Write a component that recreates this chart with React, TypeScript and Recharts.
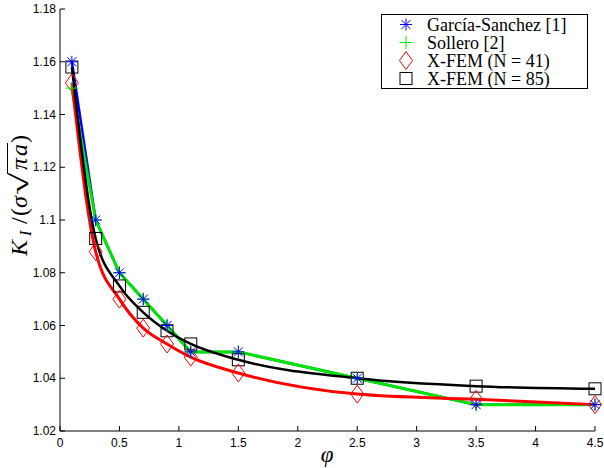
import React from "react";
import { LineChart, Line, XAxis, YAxis, Legend } from "recharts";

const phi = [0.1, 0.3, 0.5, 0.7, 0.9, 1.1, 1.5, 2.5, 3.5, 4.5];
const garcia = [1.16, 1.1, 1.08, 1.07, 1.06, 1.05, 1.05, 1.04, 1.03, 1.03];
const sollero = [1.15, 1.1, 1.08, 1.07, 1.06, 1.05, 1.05, 1.04, 1.03, 1.03];
const xfem41 = [1.152, 1.088, 1.07, 1.059, 1.053, 1.048, 1.042, 1.034, 1.032, 1.03];
const xfem85 = [1.158, 1.093, 1.075, 1.065, 1.058, 1.053, 1.047, 1.04, 1.037, 1.036];

const xTicks = [0, 0.5, 1, 1.5, 2, 2.5, 3, 3.5, 4, 4.5];
const yTicks = [1.02, 1.04, 1.06, 1.08, 1.1, 1.12, 1.14, 1.16, 1.18];

const seriesNames = ["García-Sanchez [1]", "Sollero [2]", "X-FEM (N = 41)", "X-FEM (N = 85)"];

const data = phi.map((p, i) => ({
  phi: p,
  garcia: garcia[i],
  sollero: sollero[i],
  xfem41: xfem41[i],
  xfem85: xfem85[i],
}));

const BLUE = "#0000ff";
const GREEN = "#00e600";
const RED = "#ff0000";
const BLACK = "#000000";
const SERIF = "'Liberation Serif', 'Times New Roman', serif";
const SANS = "'Liberation Sans', Arial, sans-serif";

const fmt = (v: number) => String(+v.toFixed(2));

const Star = ({ cx, cy, c }: any) => (
  <g stroke={c} strokeWidth={1} fill="none">
    <line x1={cx - 6} y1={cy} x2={cx + 6} y2={cy} />
    <line x1={cx} y1={cy - 6} x2={cx} y2={cy + 6} />
    <line x1={cx - 4.5} y1={cy - 4.5} x2={cx + 4.5} y2={cy + 4.5} />
    <line x1={cx - 4.5} y1={cy + 4.5} x2={cx + 4.5} y2={cy - 4.5} />
  </g>
);
const Plus = ({ cx, cy, c }: any) => (
  <g stroke={c} strokeWidth={1} fill="none">
    <line x1={cx - 6.5} y1={cy} x2={cx + 6.5} y2={cy} />
    <line x1={cx} y1={cy - 6.5} x2={cx} y2={cy + 6.5} />
  </g>
);
const Diamond = ({ cx, cy, c }: any) => (
  <polygon
    points={`${cx},${cy - 9} ${cx + 6.5},${cy} ${cx},${cy + 9} ${cx - 6.5},${cy}`}
    stroke={c}
    strokeWidth={1}
    fill="none"
  />
);
const Square = ({ cx, cy, c }: any) => (
  <rect x={cx - 6} y={cy - 6} width={12} height={12} stroke={c} strokeWidth={1} fill="none" />
);

const mk = (Comp: any, c: string) => (props: any) => {
  const { cx, cy, index } = props;
  if (cx == null || cy == null) return <g key={index} />;
  return <Comp key={index} cx={cx} cy={cy} c={c} />;
};

const XTick = (props: any) => {
  const { x, y, payload } = props;
  return (
    <g>
      <line x1={x} x2={x} y1={y} y2={y - 5} stroke="#000" strokeWidth={1} />
      <text x={x} y={y + 16} textAnchor="middle" fontSize={12} fontFamily={SANS} fill="#000">
        {fmt(payload.value)}
      </text>
    </g>
  );
};

const YTick = (props: any) => {
  const { x, y, payload } = props;
  return (
    <g>
      <line x1={x} x2={x + 5} y1={y} y2={y} stroke="#000" strokeWidth={1} />
      <text x={x - 4} y={y + 4} textAnchor="end" fontSize={12} fontFamily={SANS} fill="#000">
        {fmt(payload.value)}
      </text>
    </g>
  );
};

const YLabel = () => (
  <g transform="translate(27,256) rotate(-90)" fontFamily={SERIF} fill="#000" textAnchor="start">
    <text x={0} y={0} fontSize={24} fontStyle="italic">K</text>
    <text x={20} y={4} fontSize={16} fontStyle="italic">I</text>
    <text x={32} y={0} fontSize={24}>/</text>
    <text x={40} y={0} fontSize={24}>(</text>
    <text x={48} y={0} fontSize={24} fontStyle="italic">σ</text>
    <text transform="translate(61,1) scale(1.7,1.05)" x={0} y={0} fontSize={24}>√</text>
    <text x={86} y={0} fontSize={24} fontStyle="italic">π</text>
    <text x={100} y={0} fontSize={24} fontStyle="italic">a</text>
    <text x={113} y={0} fontSize={24}>)</text>
    <line x1={82} x2={113} y1={-19.5} y2={-19.5} stroke="#000" strokeWidth={1} />
  </g>
);

const XLabel = () => (
  <text x={327} y={462} textAnchor="middle" fontSize={23} fontStyle="italic" fontFamily={SERIF} fill="#000">
    φ
  </text>
);

const legendMarkers = [
  (x: number, y: number) => <Star cx={x} cy={y} c={BLUE} />,
  (x: number, y: number) => <Plus cx={x} cy={y} c={GREEN} />,
  (x: number, y: number) => <Diamond cx={x} cy={y} c={RED} />,
  (x: number, y: number) => <Square cx={x} cy={y} c={BLACK} />,
];

const LegendBox = () => (
  <svg width={208} height={76} style={{ display: "block" }}>
    <rect x={0.5} y={0.5} width={206} height={74} fill="#fff" stroke="#000" strokeWidth={1} />
    {seriesNames.map((n, i) => (
      <g key={n}>
        {legendMarkers[i](25, 10.5 + i * 18)}
        <text x={46} y={16.5 + i * 18} fontSize={18} fontFamily={SERIF} fill="#000">
          {n}
        </text>
      </g>
    ))}
  </svg>
);

export default function App() {
  return (
    <div style={{ position: "absolute", left: 0, top: 0, background: "#fff" }}>
      <LineChart width={604} height={468} data={data} margin={{ top: 9, right: 9, bottom: 7, left: 0 }}>
        <XAxis
          dataKey="phi"
          type="number"
          domain={[0, 4.5]}
          ticks={xTicks}
          height={30}
          tickSize={0}
          tickMargin={0}
          tick={<XTick />}
          axisLine={{ stroke: "#000", strokeWidth: 1 }}
          label={{ content: () => <XLabel /> }}
          interval={0}
        />
        <YAxis
          type="number"
          domain={[1.02, 1.18]}
          ticks={yTicks}
          width={60}
          tickSize={0}
          tickMargin={0}
          tick={<YTick />}
          axisLine={{ stroke: "#000", strokeWidth: 1 }}
          label={{ content: () => <YLabel /> }}
          interval={0}
          allowDataOverflow
        />
        <Legend
          layout="horizontal"
          verticalAlign="middle"
          align="center"
          content={() => <LegendBox />}
          wrapperStyle={{ position: "absolute", left: 381, top: 14, width: 208, height: 76 }}
        />
        <Line dataKey="garcia" type="linear" stroke={BLUE} strokeWidth={2.5} dot={false} isAnimationActive={false} />
        <Line dataKey="sollero" type="linear" stroke={GREEN} strokeWidth={3} dot={false} isAnimationActive={false} />
        <Line dataKey="xfem41" type="monotone" stroke={RED} strokeWidth={3} dot={false} isAnimationActive={false} />
        <Line dataKey="xfem85" type="monotone" stroke={BLACK} strokeWidth={2.5} dot={false} isAnimationActive={false} />
        <Line dataKey="xfem85" stroke="none" strokeWidth={0} dot={mk(Square, BLACK)} activeDot={false} isAnimationActive={false} />
        <Line dataKey="xfem41" stroke="none" strokeWidth={0} dot={mk(Diamond, RED)} activeDot={false} isAnimationActive={false} />
        <Line dataKey="sollero" stroke="none" strokeWidth={0} dot={mk(Plus, GREEN)} activeDot={false} isAnimationActive={false} />
        <Line dataKey="garcia" stroke="none" strokeWidth={0} dot={mk(Star, BLUE)} activeDot={false} isAnimationActive={false} />
      </LineChart>
    </div>
  );
}
